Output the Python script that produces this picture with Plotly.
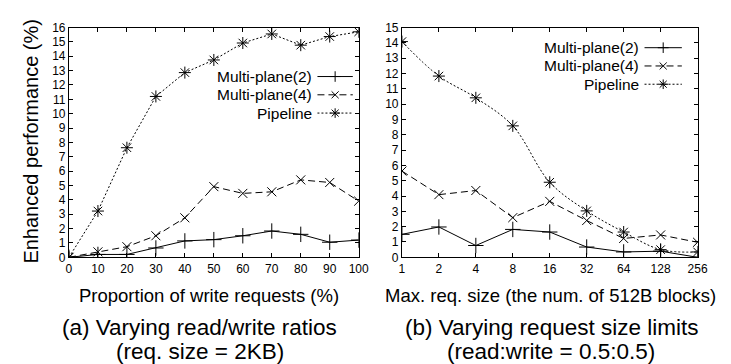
import plotly.graph_objects as go

W, H = 731, 364

# ---- data: panel (a) ----
write_ratio = [0, 10, 20, 30, 40, 50, 60, 70, 80, 90, 100]
a_mp2 = [0, 0.2, 0.2, 0.65, 1.14, 1.23, 1.5, 1.83, 1.6, 1.05, 1.2]
a_mp4 = [0, 0.38, 0.74, 1.5, 2.75, 4.92, 4.45, 4.56, 5.39, 5.21, 3.91]
a_pipe = [0, 3.22, 7.63, 11.2, 12.86, 13.74, 14.92, 15.55, 14.77, 15.37, 15.7]

# ---- data: panel (b) ----
max_req = [1, 2, 4, 8, 16, 32, 64, 128, 256]
b_mp2 = [1.5, 1.98, 0.77, 1.82, 1.65, 0.67, 0.35, 0.4, 0.0]
b_mp4 = [5.63, 4.09, 4.36, 2.59, 3.65, 2.4, 1.23, 1.46, 0.98]
b_pipe = [14.08, 11.83, 10.41, 8.58, 4.9, 3.03, 1.65, 0.5, 0.35]

series_names = ["Multi-plane(2)", "Multi-plane(4)", "Pipeline"]
x_tick_a = [str(v) for v in write_ratio]
x_tick_b = [str(v) for v in max_req]

FONT = "Liberation Sans, Arial, sans-serif"
styles = [
    dict(dash="solid", symbol="cross-thin-open", size=11),
    dict(dash="7px,4px", symbol="x-thin-open", size=9),
    dict(dash="2px,2px", symbol="asterisk-open", size=10),
]

fig = go.Figure()

def add_series(x, ys, xaxis, yaxis, spline_last=False):
    for i, (name, y) in enumerate(zip(series_names, ys)):
        st = styles[i]
        shape = "spline" if (spline_last and i == 2) else "linear"
        fig.add_trace(go.Scatter(
            x=x, y=y, name=name, mode="lines+markers",
            xaxis=xaxis, yaxis=yaxis, showlegend=False,
            line=dict(color="black", width=1, dash=st["dash"], shape=shape),
            marker=dict(symbol=st["symbol"], size=st["size"], color="black",
                        line=dict(color="black", width=1)),
        ))

add_series(write_ratio, [a_mp2, a_mp4, a_pipe], "x", "y")
add_series(max_req, [b_mp2, b_mp4, b_pipe], "x2", "y2", spline_last=True)

def px(x):
    return x / W

def py(y):
    return 1 - y / H

ydom = [py(252), py(13)]
axis_common = dict(showline=True, linecolor="black", linewidth=1, mirror="ticks",
                   ticks="inside", ticklen=4, tickwidth=1, tickcolor="black",
                   showgrid=False, zeroline=False,
                   tickfont=dict(family=FONT, size=12, color="black"))

fig.update_layout(
    width=W, height=H, margin=dict(l=0, r=0, t=0, b=0),
    paper_bgcolor="white", plot_bgcolor="white", showlegend=False,
    xaxis=dict(domain=[px(59), px(354)], range=[0, 100], tickvals=write_ratio,
               ticktext=x_tick_a, anchor="y", **axis_common),
    yaxis=dict(domain=ydom, range=[0, 16], dtick=1, anchor="x", **axis_common),
    xaxis2=dict(domain=[px(398), px(699)], type="log", range=[0, 2.40824],
                tickvals=max_req, ticktext=x_tick_b, anchor="y2", **axis_common),
    yaxis2=dict(domain=ydom, range=[0, 15], dtick=1, anchor="x2", **axis_common),
)

anns = []
def text(x, y, s, size, xanchor="center", angle=0):
    anns.append(dict(x=px(x), y=py(y), xref="paper", yref="paper", text=s,
                     showarrow=False, xanchor=xanchor, yanchor="middle",
                     textangle=angle,
                     font=dict(family=FONT, size=size, color="black")))

text(202, 292, "Proportion of write requests (%)", 18.5)
text(549, 292, "Max. req. size (the num. of 512B blocks)", 18.5)
text(20, 131, "Enhanced performance (%)", 20, angle=-90)
text(192, 325, "(a) Varying read/write ratios", 22.5)
text(192, 350, "(req. size = 2KB)", 22.5)
text(550, 325, "(b) Varying request size limits", 22.5)
text(550, 350, "(read:write = 0.5:0.5)", 22.5)

shapes = []
def seg(x0, y0, x1, y1, dash="solid"):
    shapes.append(dict(type="line", xref="paper", yref="paper",
                       x0=px(x0), y0=py(y0), x1=px(x1), y1=py(y1),
                       line=dict(color="black", width=1, dash=dash)))

def marker(kind, cx, cy, r):
    if kind in (0, 2):
        seg(cx - r, cy, cx + r, cy)
        seg(cx, cy - r, cx, cy + r)
    if kind in (1, 2):
        rr = r * 0.72
        seg(cx - rr, cy - rr, cx + rr, cy + rr)
        seg(cx - rr, cy + rr, cx + rr, cy - rr)

def legend(text_right, s0, s1, rows):
    for i, (name, ry) in enumerate(zip(series_names, rows)):
        text(text_right, ry, name, 15.5, xanchor="right")
        seg(s0, ry, s1, ry, dash=styles[i]["dash"])
        marker(i, (s0 + s1) / 2, ry, 5.5 if i == 0 else 5)

legend(308, 312, 348, [64, 83, 102])
legend(641, 645, 683, [34, 53, 72])

fig.update_layout(annotations=anns, shapes=shapes)
fig.write_html("out.html")
